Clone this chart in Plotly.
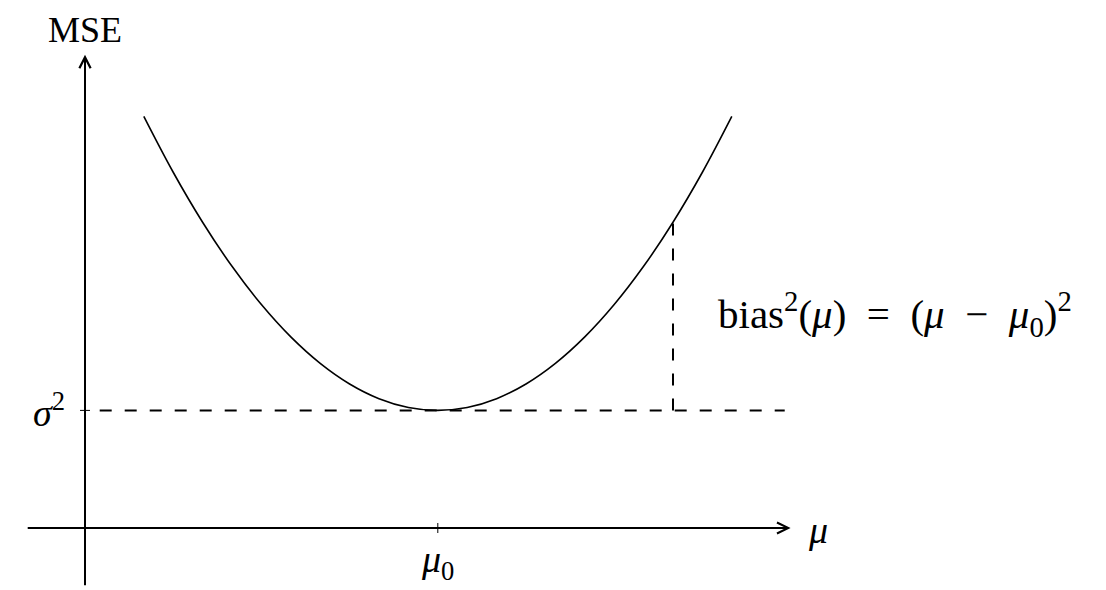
import plotly.graph_objects as go

# ---- data (axis units) ----
curve_x = [1, 1.5, 2, 2.5, 3, 3.5, 4, 4.5, 5, 5.5, 6, 6.5, 7, 7.5, 8, 8.5, 9, 9.5, 10, 10.5, 11]
curve_y = [7.0, 6.05, 5.2, 4.45, 3.8, 3.25, 2.8, 2.45, 2.2, 2.05, 2.0, 2.05, 2.2, 2.45, 2.8, 3.25, 3.8, 4.45, 5.2, 6.05, 7.0]
sigma2 = 2.0          # level of sigma^2
mu0 = 6.0             # location of minimum
mu_example = 10.0     # where bias^2 is shown
mse_at_example = 5.2  # curve value at mu_example
sigma_line_x = [0.25, 11.9]
x_axis_span = [-1.0, 12.0]
y_axis_span = [-1.0, 8.05]

FONT = "Liberation Serif"
fig = go.Figure()

fig.add_trace(go.Scatter(x=curve_x, y=curve_y, mode="lines",
                         line=dict(color="black", width=1.6, shape="spline", smoothing=1.0),
                         hoverinfo="skip", showlegend=False))
fig.add_trace(go.Scatter(x=sigma_line_x, y=[sigma2, sigma2], mode="lines",
                         line=dict(color="black", width=2, dash="12px,13px"),
                         hoverinfo="skip", showlegend=False))
fig.add_trace(go.Scatter(x=[mu_example, mu_example], y=[sigma2, mse_at_example], mode="lines",
                         line=dict(color="black", width=2, dash="12px,13px"),
                         hoverinfo="skip", showlegend=False))

annotations = []
# axes with arrowheads
annotations.append(dict(x=x_axis_span[1], y=0, ax=x_axis_span[0], ay=0, xref="x", yref="y",
                        axref="x", ayref="y", text="", showarrow=True, arrowhead=5,
                        arrowsize=1.1, arrowwidth=2, arrowcolor="black", standoff=0, startstandoff=0))
annotations.append(dict(x=0, y=y_axis_span[1], ax=0, ay=y_axis_span[0], xref="x", yref="y",
                        axref="x", ayref="y", text="", showarrow=True, arrowhead=5,
                        arrowsize=1.1, arrowwidth=2, arrowcolor="black", standoff=0, startstandoff=0))

f_big = dict(family=FONT, size=38, color="black")
f_mse = dict(family=FONT, size=36, color="black")
f_bias = dict(family=FONT, size=41, color="black")
annotations.append(dict(x=0, y=y_axis_span[1], xref="x", yref="y", text="MSE", showarrow=False,
                        yshift=25, font=f_mse))
annotations.append(dict(x=x_axis_span[1], y=0, xref="x", yref="y", text="<i>μ</i>", showarrow=False,
                        xanchor="left", xshift=15, yshift=-2, font=f_big))
annotations.append(dict(x=mu0, y=0, xref="x", yref="y", text="<i>μ</i><sub>0</sub>", showarrow=False,
                        yanchor="top", yshift=-8, font=f_big))
annotations.append(dict(x=0, y=sigma2, xref="x", yref="y", text="<i>σ</i><sup>2</sup>", showarrow=False,
                        xanchor="right", xshift=-18, yshift=0, font=f_big))
annotations.append(dict(x=mu_example, y=(sigma2 + mse_at_example) / 2, xref="x", yref="y",
                        text="bias<sup>2</sup>(<i>μ</i>)\u2002=\u2002(<i>μ</i>\u2002−\u2002<i>μ</i><sub>0</sub>)<sup>2</sup>",
                        showarrow=False, xanchor="left", xshift=43, yshift=2, font=f_bias))

shapes = [
    dict(type="line", x0=mu0, x1=mu0, y0=-0.085, y1=0.085, xref="x", yref="y",
         line=dict(color="black", width=1)),
    dict(type="line", x0=-0.085, x1=0.085, y0=sigma2, y1=sigma2, xref="x", yref="y",
         line=dict(color="black", width=1)),
]

# page has an 8px body margin: data origin sits at page pixel (85, 528)
W, H = 1098, 582
ox, oy = 77, 520
scale = 58.8
fig.update_layout(
    width=W, height=H, margin=dict(l=0, r=0, t=0, b=0),
    paper_bgcolor="white", plot_bgcolor="white",
    xaxis=dict(range=[-ox / scale, (W - ox) / scale], visible=False, fixedrange=True),
    yaxis=dict(range=[-(H - oy) / scale, oy / scale], visible=False, fixedrange=True),
    annotations=annotations, shapes=shapes, showlegend=False,
)

fig.write_html("out.html")
